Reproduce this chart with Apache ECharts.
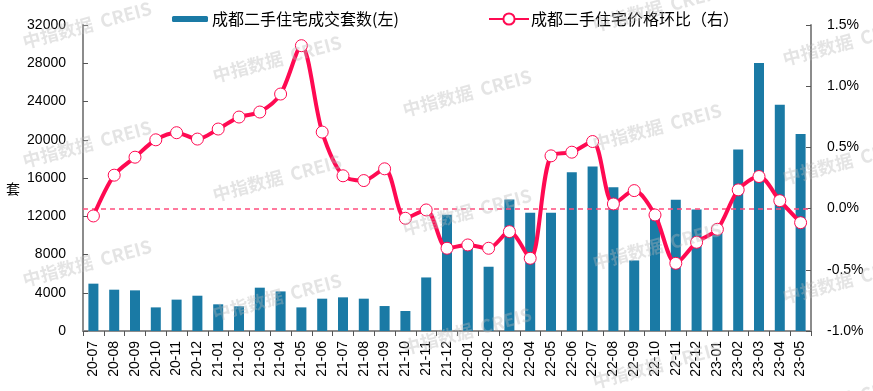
<!DOCTYPE html>
<html>
<head>
<meta charset="utf-8">
<script src="https://cdn.jsdelivr.net/npm/echarts@6/dist/echarts.min.js"></script>
<style>html,body{margin:0;padding:0;background:#fff;}#c{width:873px;height:391px;}</style>
</head>
<body>
<div id="c"></div>
<script>
const months = ['20-07','20-08','20-09','20-10','20-11','20-12','21-01','21-02','21-03','21-04','21-05','21-06','21-07','21-08','21-09','21-10','21-11','21-12','22-01','22-02','22-03','22-04','22-05','22-06','22-07','22-08','22-09','22-10','22-11','22-12','23-01','23-02','23-03','23-04','23-05'];
const volume = [4950,4320,4250,2470,3280,3690,2790,2580,4530,4140,2470,3380,3520,3380,2610,2090,5600,12150,8650,6720,13750,12360,12360,16600,17200,15030,7380,11800,13720,12700,10400,18970,28020,23670,20610];
const priceMoM = [-0.06,0.273,0.42,0.562,0.62,0.568,0.65,0.748,0.789,0.936,1.331,0.625,0.268,0.229,0.325,-0.079,-0.011,-0.324,-0.297,-0.324,-0.188,-0.406,0.431,0.461,0.548,0.038,0.147,-0.052,-0.447,-0.275,-0.169,0.153,0.262,0.065,-0.115];
const barName = '成都二手住宅成交套数(左)';
const lineName = '成都二手住宅价格环比（右）';
const unitLabel = '套';
const watermarkText = '中指数据  CREIS';

const chart = echarts.init(document.getElementById('c'), null, {renderer:'canvas'});
const font = '"Liberation Sans", Arial, "Noto Sans CJK SC", sans-serif';
const axisGrey = '#8c8c8c';

const wm = [];
for (let i = 0; i < 5; i++) {
  for (let j = -1; j < 3; j++) {
    wm.push({
      type: 'text', silent: true, z: 100,
      x: 87 + 190 * i, y: 25 + 34 * i + 119 * j,
      rotation: 15 * Math.PI / 180,
      style: { text: watermarkText, fill: 'rgba(185,185,185,0.38)', font: 'bold 18px "Noto Sans CJK SC", sans-serif', align: 'center', verticalAlign: 'middle' }
    });
  }
}
wm.push({ type:'text', silent:true, x:13, y:189, style:{ text: unitLabel, fill:'#000', font:'14px "Noto Sans CJK SC", sans-serif', align:'center', verticalAlign:'middle' } });

chart.setOption({
  animation: false,
  textStyle: { fontFamily: font },
  graphic: wm,
  legend: [
    { data: [barName], left: 167, top: 6, itemWidth: 36, itemHeight: 6, itemGap: 0,
      textStyle: { fontSize: 16, color: '#000', fontFamily: '"Noto Sans CJK SC", sans-serif', padding:[0,0,0,-1] } },
    { data: [lineName], left: 483, top: 6, itemWidth: 40, itemHeight: 14,
      textStyle: { fontSize: 16, color: '#000', fontFamily: '"Noto Sans CJK SC", sans-serif', padding:[0,0,0,-3] } }
  ],
  grid: { left: 83, right: 62, top: 25, bottom: 60, containLabel: false },
  xAxis: {
    type: 'category', data: months, boundaryGap: true,
    axisLine: { lineStyle: { color: axisGrey, width: 2 } },
    axisTick: { show: true, length: 5, alignWithLabel: false, lineStyle: { color: '#555', width: 1 } },
    axisLabel: { rotate: 90, interval: 0, fontSize: 14, color: '#000', margin: 10 },
    splitLine: { show: false }
  },
  yAxis: [
    { type: 'value', min: 0, max: 32000, interval: 4000,
      axisLine: { show: true, lineStyle: { color: axisGrey, width: 2 } },
      axisTick: { show: true, inside: true, length: 5, lineStyle: { color: '#555' } },
      axisLabel: { fontSize: 14, color: '#000', margin: 17, formatter: v => String(v) },
      splitLine: { show: false } },
    { type: 'value', min: -1, max: 1.5, interval: 0.5, position: 'right',
      axisLine: { show: true, lineStyle: { color: axisGrey, width: 2 } },
      axisTick: { show: true, inside: true, length: 5, lineStyle: { color: '#555' } },
      axisLabel: { fontSize: 14, color: '#000', margin: 16, formatter: v => v.toFixed(1) + '%' },
      splitLine: { show: false } }
  ],
  series: [
    { name: barName, type: 'bar', data: volume, yAxisIndex: 0, barWidth: 10,
      itemStyle: { color: '#1A7AA5' } },
    { name: lineName, type: 'line', data: priceMoM, yAxisIndex: 1, smooth: 0.3,
      symbol: 'circle', symbolSize: 12, z: 5,
      lineStyle: { color: '#FF0A52', width: 4 },
      itemStyle: { color: '#fff', borderColor: '#FF0A52', borderWidth: 1 },
      markLine: { silent: true, symbol: 'none', label: { show: false },
        lineStyle: { color: '#FF4D7D', type: [5, 4], width: 1.5 },
        data: [{ yAxis: 0 }] } }
  ]
});
</script>
</body>
</html>
